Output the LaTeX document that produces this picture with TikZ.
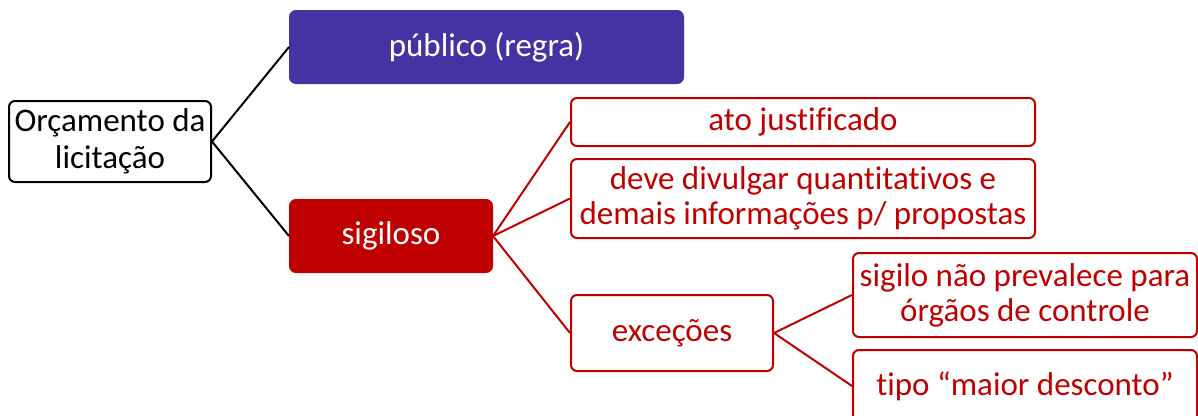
\documentclass[tikz,border=0pt]{standalone}
\usepackage{fontspec}
\setmainfont[Ligatures={NoCommon}]{Carlito}
\definecolor{regraBlue}{RGB}{68,51,163}
\definecolor{sigiloRed}{RGB}{192,0,0}
\tikzset{
  % Shared values that are assigned to different keys in the styles below.
  globals/box line width/.initial=2pt,
  globals/box corner/.initial=6pt,
%
  % For every box of the map.
  box/.style={
    rounded corners=\pgfkeysvalueof{/tikz/globals/box corner},
    line width=\pgfkeysvalueof{/tikz/globals/box line width},
    align=center,
    inner sep=1pt,
    font={\fontsize{33pt}{35pt}\selectfont}},
%
  % For the root box.
  root box/.style={
    box,
    draw=black,
    fill=white,
    font={\fontsize{33pt}{37pt}\selectfont}},
%
  % For filled boxes with white text.
  filled box/.style={
    box,
    draw=#1,
    fill=#1,
    text=white},
%
  % For outlined red boxes.
  leaf box/.style={
    box,
    draw=sigiloRed,
    fill=white,
    text=sigiloRed},
%
  % For connectors.
  link/.style={
    line width=2pt},
%
  % For red connectors.
  red link/.style={
    link,
    draw=sigiloRed}
}
\begin{document}
\begin{tikzpicture}[x=1pt,y=-1pt]
  \useasboundingbox (0,0) rectangle (1198,415);

  \node[root box, minimum width=202pt, minimum height=81pt]
    (root) at (110,141.5) {Orçamento da\\licitação};
  \node[filled box=regraBlue, minimum width=393pt, minimum height=72pt]
    (publico) at (486.5,47) {público (regra)};
  \node[filled box=sigiloRed, minimum width=202pt, minimum height=72pt]
    (sigiloso) at (391,236) {sigiloso};

  \node[leaf box, minimum width=464pt, minimum height=48pt]
    (ato) at (803,122) {ato justificado};
  \node[leaf box, minimum width=464pt, minimum height=79pt]
    (deve) at (803,198.5) {deve divulgar quantitativos e\\demais informações p/ propostas};
  \node[leaf box, minimum width=202pt, minimum height=76pt]
    (excecoes) at (672,333) {exceções};

  \node[leaf box, minimum width=344pt, minimum height=84pt]
    (orgaos) at (1025,295) {sigilo não prevalece para\\órgãos de controle};
  \node[leaf box, minimum width=344pt, minimum height=72pt]
    (tipo) at (1025,386) {tipo “maior desconto”};

  % Connectors from the root.
  \draw[link] (root.east) -- (publico.west);
  \draw[link] (root.east) -- (sigiloso.west);

  % Connectors of the secret branch.
  \draw[red link] (sigiloso.east) -- (ato.west);
  \draw[red link] (sigiloso.east) -- (deve.west);
  \draw[red link] (sigiloso.east) -- (excecoes.west);
  \draw[red link] (excecoes.east) -- (orgaos.west);
  \draw[red link] (excecoes.east) -- (tipo.west);
\end{tikzpicture}
\end{document}
